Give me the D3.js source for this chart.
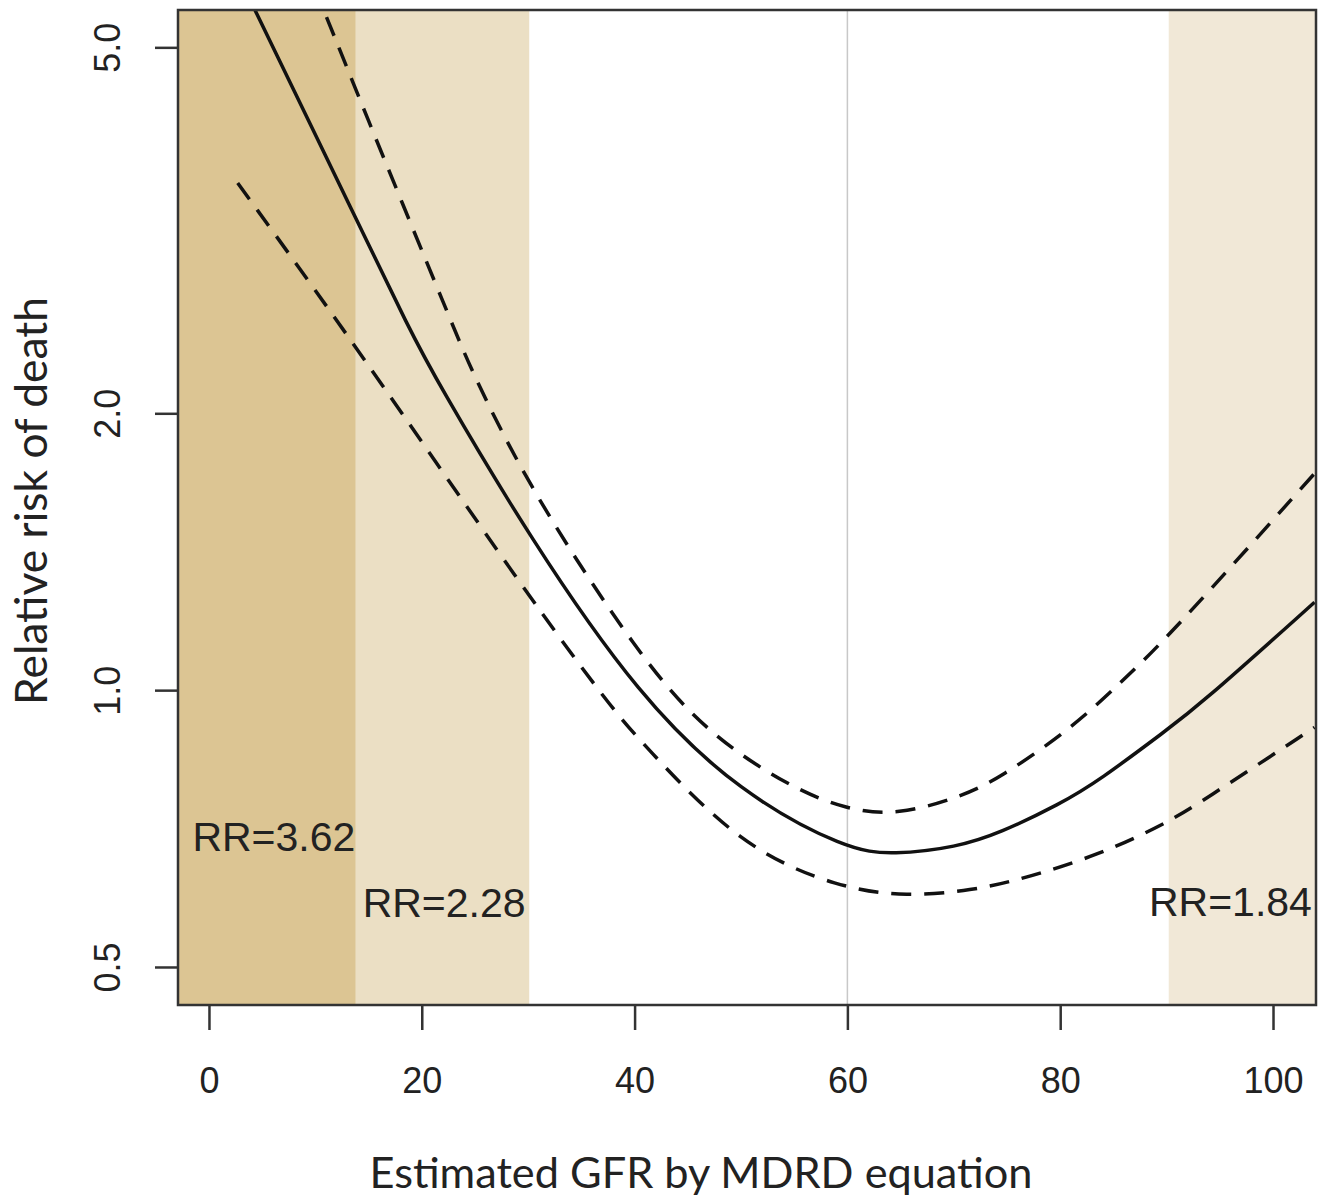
<!DOCTYPE html>
<html>
<head>
  <title>Relative risk of death by eGFR</title>
  <script src="https://cdn.jsdelivr.net/npm/d3@7/dist/d3.min.js"></script>
  <style>
    body { margin: 0; background: #fff; }
  </style>
</head>
<body>
  <svg width="1334" height="1200"></svg>
  <script>
    // ---- data ----
    // point estimate (solid)
    const estGfr = [2.7, 4.4, 13.9, 18.9, 21.4, 30.2, 40.5, 49.9, 60.0, 64.3, 70.3, 74.3, 80.0, 83.7, 90.0, 93.1, 103.9];
    const estRR  = [6.0, 5.47, 3.24, 2.46, 2.17, 1.46, 0.98, 0.773, 0.670, 0.662, 0.675, 0.699, 0.752, 0.798, 0.905, 0.963, 1.246];
    // upper 95% limit (dashed)
    const upGfr = [2.7, 10.9, 13.9, 23.3, 24.8, 30.2, 40.5, 46.8, 54.6, 60.0, 64.7, 70.6, 74.3, 81.2, 85.9, 90.1, 103.9];
    const upRR  = [9.2, 5.46, 4.46, 2.43, 2.21, 1.65, 1.086, 0.898, 0.784, 0.741, 0.731, 0.765, 0.802, 0.911, 1.025, 1.14, 1.72];
    // lower 95% limit (dashed)
    const loGfr = [2.7, 13.9, 29.9, 38.0, 40.5, 49.9, 59.3, 65.6, 71.8, 76.2, 83.7, 90.0, 93.1, 103.9];
    const loRR  = [3.56, 2.36, 1.27, 0.951, 0.882, 0.675, 0.609, 0.596, 0.606, 0.622, 0.662, 0.717, 0.754, 0.911];

    // shaded GFR ranges
    const bandFrom = [null, 13.8, 90.2];   // null = left edge of plot
    const bandTo   = [13.8, 30.1, null];   // null = right edge of plot
    const bandFill = ['#dcc593', '#ebdfc4', '#f1e8d7'];

    // RR labels
    const rrText = ['RR=3.62', 'RR=2.28', 'RR=1.84'];
    const rrGfr  = [6.1, 22.1, 96.0];
    const rrVal  = [0.694, 0.588, 0.59];

    const xTicks = [0, 20, 40, 60, 80, 100];
    const yTicks = [0.5, 1.0, 2.0, 5.0];
    const refLine = 60;

    // ---- layout ----
    const svg = d3.select('svg');
    const plotL = 178, plotR = 1316, plotT = 10, plotB = 1005;

    const x = d3.scaleLinear().domain([-2.91, 104.04]).range([plotL, plotR]);
    const y = d3.scaleLog().domain([0.4546, 5.49]).range([plotB, plotT]);

    svg.append('defs').append('clipPath').attr('id', 'plot')
      .append('rect')
      .attr('x', plotL).attr('y', plotT)
      .attr('width', plotR - plotL).attr('height', plotB - plotT);

    const bands = bandFill.map((c, i) => ({
      x0: bandFrom[i] == null ? x.domain()[0] : bandFrom[i],
      x1: bandTo[i] == null ? x.domain()[1] : bandTo[i],
      fill: c
    }));

    svg.append('g')
      .selectAll('rect')
      .data(bands)
      .enter()
      .append('rect')
      .attr('x', d => x(d.x0))
      .attr('width', d => x(d.x1) - x(d.x0))
      .attr('y', plotT)
      .attr('height', plotB - plotT)
      .attr('fill', d => d.fill);

    svg.append('line')
      .attr('x1', x(refLine)).attr('x2', x(refLine))
      .attr('y1', plotT).attr('y2', plotB)
      .attr('stroke', '#c8c8c8')
      .attr('stroke-width', 1.5);

    // smooth B-spline through the read points
    const line = d3.line()
      .x(d => x(d[0]))
      .y(d => y(d[1]))
      .curve(d3.curveBasis);

    const series = [
      { pts: d3.zip(estGfr, estRR), dash: null },
      { pts: d3.zip(upGfr, upRR), dash: '20,13' },
      { pts: d3.zip(loGfr, loRR), dash: '20,13' }
    ];

    svg.append('g')
      .attr('clip-path', 'url(#plot)')
      .selectAll('path')
      .data(series)
      .enter()
      .append('path')
      .attr('d', d => line(d.pts))
      .attr('fill', 'none')
      .attr('stroke', '#111')
      .attr('stroke-width', 3.5)
      .attr('stroke-dasharray', d => d.dash);

    svg.append('g')
      .selectAll('text')
      .data(rrText)
      .enter()
      .append('text')
      .attr('x', (d, i) => x(rrGfr[i]))
      .attr('y', (d, i) => y(rrVal[i]))
      .attr('dy', '0.36em')
      .attr('text-anchor', 'middle')
      .style('font-family', '"Liberation Sans", Arial, sans-serif')
      .style('font-size', '41px')
      .style('fill', '#222')
      .text(d => d);

    // box
    svg.append('rect')
      .attr('x', plotL).attr('y', plotT)
      .attr('width', plotR - plotL).attr('height', plotB - plotT)
      .attr('fill', 'none')
      .attr('stroke', '#333')
      .attr('stroke-width', 2.5);

    // axes
    const xAxis = svg.append('g')
      .attr('transform', `translate(0,${plotB})`)
      .call(d3.axisBottom(x).tickValues(xTicks).tickSize(25).tickPadding(37).tickFormat(d3.format('d')));

    const yAxis = svg.append('g')
      .attr('transform', `translate(${plotL},0)`)
      .call(d3.axisLeft(y).tickValues(yTicks).tickSize(23).tickFormat(d3.format('.1f')));

    [xAxis, yAxis].forEach(g => {
      g.select('.domain').remove();
      g.selectAll('.tick line').attr('stroke', '#333').attr('stroke-width', 2.5);
      g.selectAll('.tick text')
        .style('font-family', '"Liberation Sans", Arial, sans-serif')
        .style('font-size', '36px')
        .attr('fill', '#222');
    });

    yAxis.selectAll('.tick text')
      .attr('transform', 'rotate(-90)')
      .attr('x', 0)
      .attr('y', -58)
      .attr('dy', 0)
      .attr('text-anchor', 'middle');

    // titles, sized to the width seen in the picture
    function fitText(sel, target) {
      sel.style('font-size', '40px');
      const w = sel.node().getComputedTextLength();
      sel.style('font-size', (40 * target / w).toFixed(2) + 'px');
    }

    const xTitle = svg.append('text')
      .attr('x', 701)
      .attr('y', 1188)
      .attr('text-anchor', 'middle')
      .style('font-family', 'Lato, "Open Sans", sans-serif')
      .style('fill', '#222')
      .text('Estimated GFR by MDRD equation');
    fitText(xTitle, 663);

    const yTitle = svg.append('text')
      .attr('transform', 'translate(47,501) rotate(-90)')
      .attr('text-anchor', 'middle')
      .style('font-family', 'Lato, "Open Sans", sans-serif')
      .style('fill', '#222')
      .text('Relative risk of death');
    fitText(yTitle, 408);
  </script>
</body>
</html>
